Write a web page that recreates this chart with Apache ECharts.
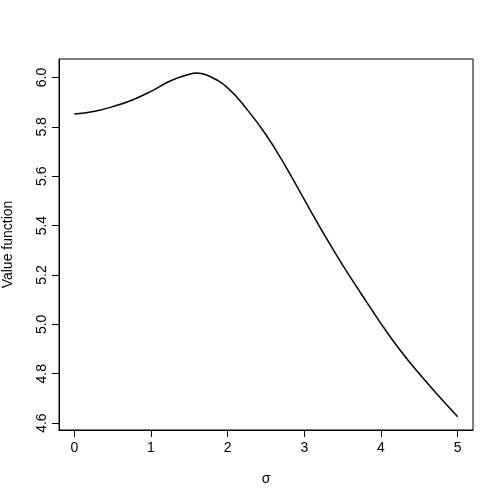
<!DOCTYPE html>
<html>
<head>
<meta charset="utf-8">
<script src="https://cdn.jsdelivr.net/npm/echarts@6/dist/echarts.min.js"></script>
<style>
  html, body { margin: 0; padding: 0; background: #fff; }
  #main { width: 504px; height: 504px; }
</style>
</head>
<body>
<div id="main"></div>
<script>
// sigma values and the value function
var sigma = [0, 0.25, 0.5, 0.75, 1.0, 1.25, 1.5, 1.6, 1.75, 2.0, 2.25, 2.5, 2.75, 3.0, 3.25, 3.5, 3.75, 4.0, 4.25, 4.5, 4.75, 5.0];
var valueFn = [5.852, 5.862, 5.882, 5.908, 5.944, 5.986, 6.013, 6.018, 6.007, 5.958, 5.872, 5.768, 5.643, 5.505, 5.369, 5.240, 5.120, 5.003, 4.895, 4.800, 4.711, 4.626];
var xTicks = [0, 1, 2, 3, 4, 5];
var yTicks = [4.6, 4.8, 5.0, 5.2, 5.4, 5.6, 5.8, 6.0];

var chart = echarts.init(document.getElementById('main'));
var font = 'Liberation Sans, Arial, Helvetica, sans-serif';

var option = {
    animation: false,
    backgroundColor: '#fff',
    grid: {
        left: 59, right: 31, top: 59, bottom: 74,
        containLabel: false,
        outerBoundsMode: 'none',
        show: true, borderColor: '#000', borderWidth: 1
    },
    xAxis: {
        type: 'value',
        min: -0.2, max: 5.2,
        name: 'σ',
        nameLocation: 'middle',
        nameGap: 42,
        nameTextStyle: { color: '#000', fontSize: 14, fontFamily: font },
        axisLine: { show: true, onZero: false, lineStyle: { color: '#000', width: 1 } },
        splitLine: { show: false },
        axisTick: { show: true, inside: false, length: 7, customValues: xTicks, lineStyle: { color: '#000' } },
        axisLabel: {
            customValues: xTicks, margin: 11, color: '#000', fontSize: 14, fontFamily: font,
            formatter: function (v) { return String(v); }
        }
    },
    yAxis: {
        type: 'value',
        min: 4.572, max: 6.075,
        name: 'Value function',
        nameLocation: 'middle',
        nameGap: 44,
        nameTextStyle: { color: '#000', fontSize: 14, fontFamily: font },
        axisLine: { show: true, onZero: false, lineStyle: { color: '#000', width: 1 } },
        splitLine: { show: false },
        axisTick: { show: true, inside: false, length: 7, customValues: yTicks, lineStyle: { color: '#000' } },
        axisLabel: {
            customValues: yTicks, rotate: 90, margin: 10, color: '#000', fontSize: 14, fontFamily: font,
            formatter: function (v) { return v.toFixed(1); }
        }
    },
    series: [{
        type: 'line',
        data: sigma.map(function (s, i) { return [s, valueFn[i]]; }),
        smooth: 0.45,
        showSymbol: false,
        lineStyle: { color: '#000', width: 1.5 }
    }]
};
chart.setOption(option);
</script>
</body>
</html>
